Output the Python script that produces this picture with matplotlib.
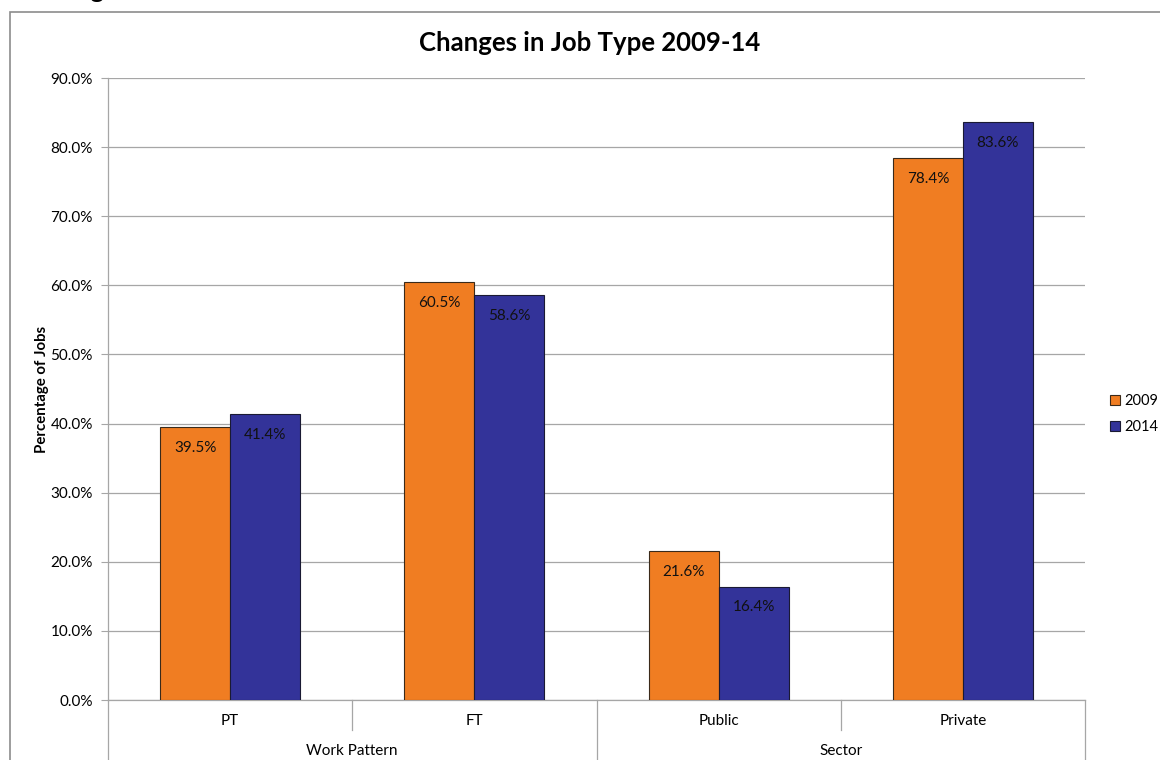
import matplotlib.pyplot as plt
import matplotlib.transforms as mtransforms
from matplotlib.patches import Rectangle
import numpy as np

plt.rcParams['font.family'] = ['Lato', 'DejaVu Sans']

categories = ["PT", "FT", "Public", "Private"]
groups = ["Work Pattern", "Sector"]
values_2009 = [39.5, 60.5, 21.6, 78.4]
values_2014 = [41.4, 58.6, 16.4, 83.6]
series_labels = ["2009", "2014"]

ORANGE = "#F07D22"
BLUE = "#333399"
GRID = "#A6A6A6"

W, H = 1160, 760
fig = plt.figure(figsize=(W / 100, H / 100), dpi=100)
ax = fig.add_axes([108 / W, 1 - 700 / H, (1085 - 108) / W, (700 - 78) / H])

x = np.arange(len(categories))
bw = 70 / 244
b1 = ax.bar(x - bw / 2, values_2009, bw, color=ORANGE, edgecolor="#3a2a1a",
            linewidth=0.8, label=series_labels[0], zorder=3)
b2 = ax.bar(x + bw / 2, values_2014, bw, color=BLUE, edgecolor="#1a1a33",
            linewidth=0.8, label=series_labels[1], zorder=3)

for bars, vals in ((b1, values_2009), (b2, values_2014)):
    for r, v in zip(bars, vals):
        ax.annotate(f"{v:.1f}%", (r.get_x() + r.get_width() / 2, v),
                    xytext=(0, -15), textcoords="offset points",
                    ha="center", va="center", fontsize=11, color="#111111",
                    zorder=4)

ax.set_xlim(-0.5, len(categories) - 0.5)
ax.set_ylim(0, 90)
ax.set_yticks(np.arange(0, 91, 10))
ax.set_yticklabels([f"{t:.1f}%" for t in np.arange(0, 91, 10)], fontsize=11)
ax.yaxis.grid(True, color=GRID, linewidth=0.9, zorder=0)
ax.tick_params(axis="y", length=5, color=GRID, pad=6)
ax.set_xticks([])
for s in ("top", "right"):
    ax.spines[s].set_visible(False)
for s in ("left", "bottom"):
    ax.spines[s].set_color(GRID)
    ax.spines[s].set_linewidth(0.9)

fig.text(42 / W, 1 - 389 / H, "Percentage of Jobs", rotation=90, ha="center",
         va="center", fontsize=10.8, fontweight="bold")

# two-level category axis
trans = mtransforms.blended_transform_factory(ax.transData, ax.transAxes)
px = 1 / (700 - 78)
for i, c in enumerate(categories):
    ax.text(i, -21 * px, c, transform=trans, ha="center", va="center", fontsize=11)
for gi, g in enumerate(groups):
    ax.text(gi * 2 + 0.5, -51 * px, g, transform=trans, ha="center", va="center",
            fontsize=11)
for xd in np.arange(-0.5, len(categories), 1.0):
    depth = 30 * px if (xd + 0.5) % 2 == 1 else 80 * px
    ax.plot([xd, xd], [0, -depth], transform=trans, color=GRID, linewidth=0.9,
            clip_on=False)

ax.legend(loc="center left", bbox_to_anchor=(1107 / W, 1 - 414 / H),
          bbox_transform=fig.transFigure, frameon=False, fontsize=10.5,
          handlelength=0.7, handleheight=0.7, handletextpad=0.3, labelspacing=0.8,
          borderpad=0.2, borderaxespad=0)

fig.text(590 / W, 1 - 43 / H, "Changes in Job Type 2009-14", ha="center",
         va="center", fontsize=18.5, fontweight="bold")
fig.text(70 / W, 1 + 2 / H, "Figure 6", ha="left", va="baseline",
         fontsize=18, fontweight="bold")

fig.patches.append(Rectangle((10 / W, -0.1), 1.2, 1.1 - 12 / H,
                             transform=fig.transFigure, fill=False,
                             edgecolor="#8c8c8c", linewidth=1.2))

fig.savefig("out.png", dpi=100)
